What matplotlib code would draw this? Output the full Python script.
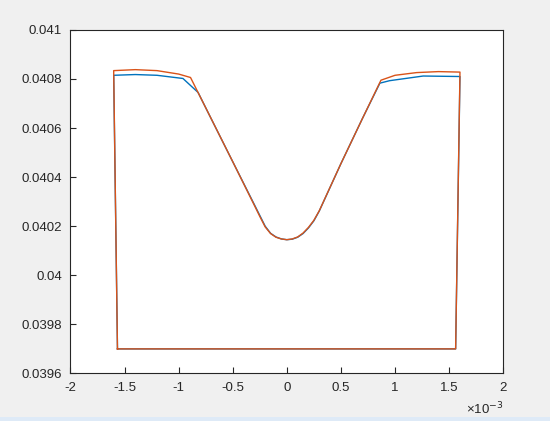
import matplotlib
matplotlib.use("Agg")
import matplotlib.pyplot as plt
from matplotlib.ticker import FuncFormatter
from matplotlib.patches import Rectangle

plt.rcParams['font.family'] = ['Liberation Sans', 'DejaVu Sans']

# x values in units of 1e-3
x_orange = [-1.565, -1.60, -1.40, -1.20, -1.00, -0.89, -0.70, -0.50, -0.30, -0.25,
            -0.20, -0.15, -0.10, -0.05, 0.00, 0.05, 0.10, 0.15, 0.20, 0.25, 0.30,
            0.50, 0.70, 0.87, 1.00, 1.20, 1.40, 1.60, 1.56, -1.565]
y_orange = [0.03970, 0.040834, 0.040838, 0.040834, 0.040820, 0.040806, 0.040639,
            0.040463, 0.040285, 0.040240, 0.040197, 0.040170, 0.040155, 0.040148,
            0.040145, 0.040148, 0.040156, 0.040172, 0.040195, 0.040224, 0.040263,
            0.040455, 0.040640, 0.040795, 0.040815, 0.040826, 0.040830, 0.040828,
            0.03970, 0.03970]

x_blue = [-1.565, -1.60, -1.40, -1.20, -0.96, -0.82, -0.70, -0.50, -0.30, -0.25,
          -0.20, -0.15, -0.10, -0.05, 0.00, 0.05, 0.10, 0.15, 0.20, 0.25, 0.30,
          0.50, 0.70, 0.86, 0.95, 1.26, 1.60, 1.56, -1.565]
y_blue = [0.03970, 0.040815, 0.040818, 0.040815, 0.040802, 0.040745, 0.040639,
          0.040463, 0.040288, 0.040244, 0.040200, 0.040171, 0.040156, 0.040148,
          0.040145, 0.040147, 0.040155, 0.040170, 0.040193, 0.040222, 0.040262,
          0.040455, 0.040640, 0.040783, 0.040793, 0.040812, 0.040810,
          0.03970, 0.03970]

x_ticks = [-2, -1.5, -1, -0.5, 0, 0.5, 1, 1.5, 2]
y_ticks = [0.0396, 0.0398, 0.04, 0.0402, 0.0404, 0.0406, 0.0408, 0.041]

fig = plt.figure(figsize=(5.5, 4.21), dpi=100, facecolor='#f0f0f0')
ax = fig.add_axes([0.128, 0.113, 0.787, 0.816])
ax.set_facecolor('white')

ax.plot([v * 1e-3 for v in x_blue], y_blue, color='#0072BD', lw=1.0)
ax.plot([v * 1e-3 for v in x_orange], y_orange, color='#D95319', lw=1.0)

ax.set_xlim(-2e-3, 2e-3)
ax.set_ylim(0.0396, 0.041)
ax.set_xticks([t * 1e-3 for t in x_ticks])
ax.set_xticklabels(['%g' % t for t in x_ticks])
ax.set_yticks(y_ticks)
ax.yaxis.set_major_formatter(FuncFormatter(lambda v, p: '%g' % round(v, 6)))

for s in ax.spines.values():
    s.set_color('#262626')
    s.set_linewidth(0.8)
ax.tick_params(direction='in', length=4, width=0.8, colors='#262626',
               labelsize=9.5, top=False, right=False, pad=6)

ax.text(1.0, -0.078, '\u00d710$^{-3}$', transform=ax.transAxes,
        ha='right', va='top', fontsize=9.5, color='#262626')

fig.patches.append(Rectangle((0, 0), 1, 4 / 421, transform=fig.transFigure,
                             facecolor='#deeaf7', edgecolor='none'))

fig.savefig('out.png', dpi=100, facecolor=fig.get_facecolor())
